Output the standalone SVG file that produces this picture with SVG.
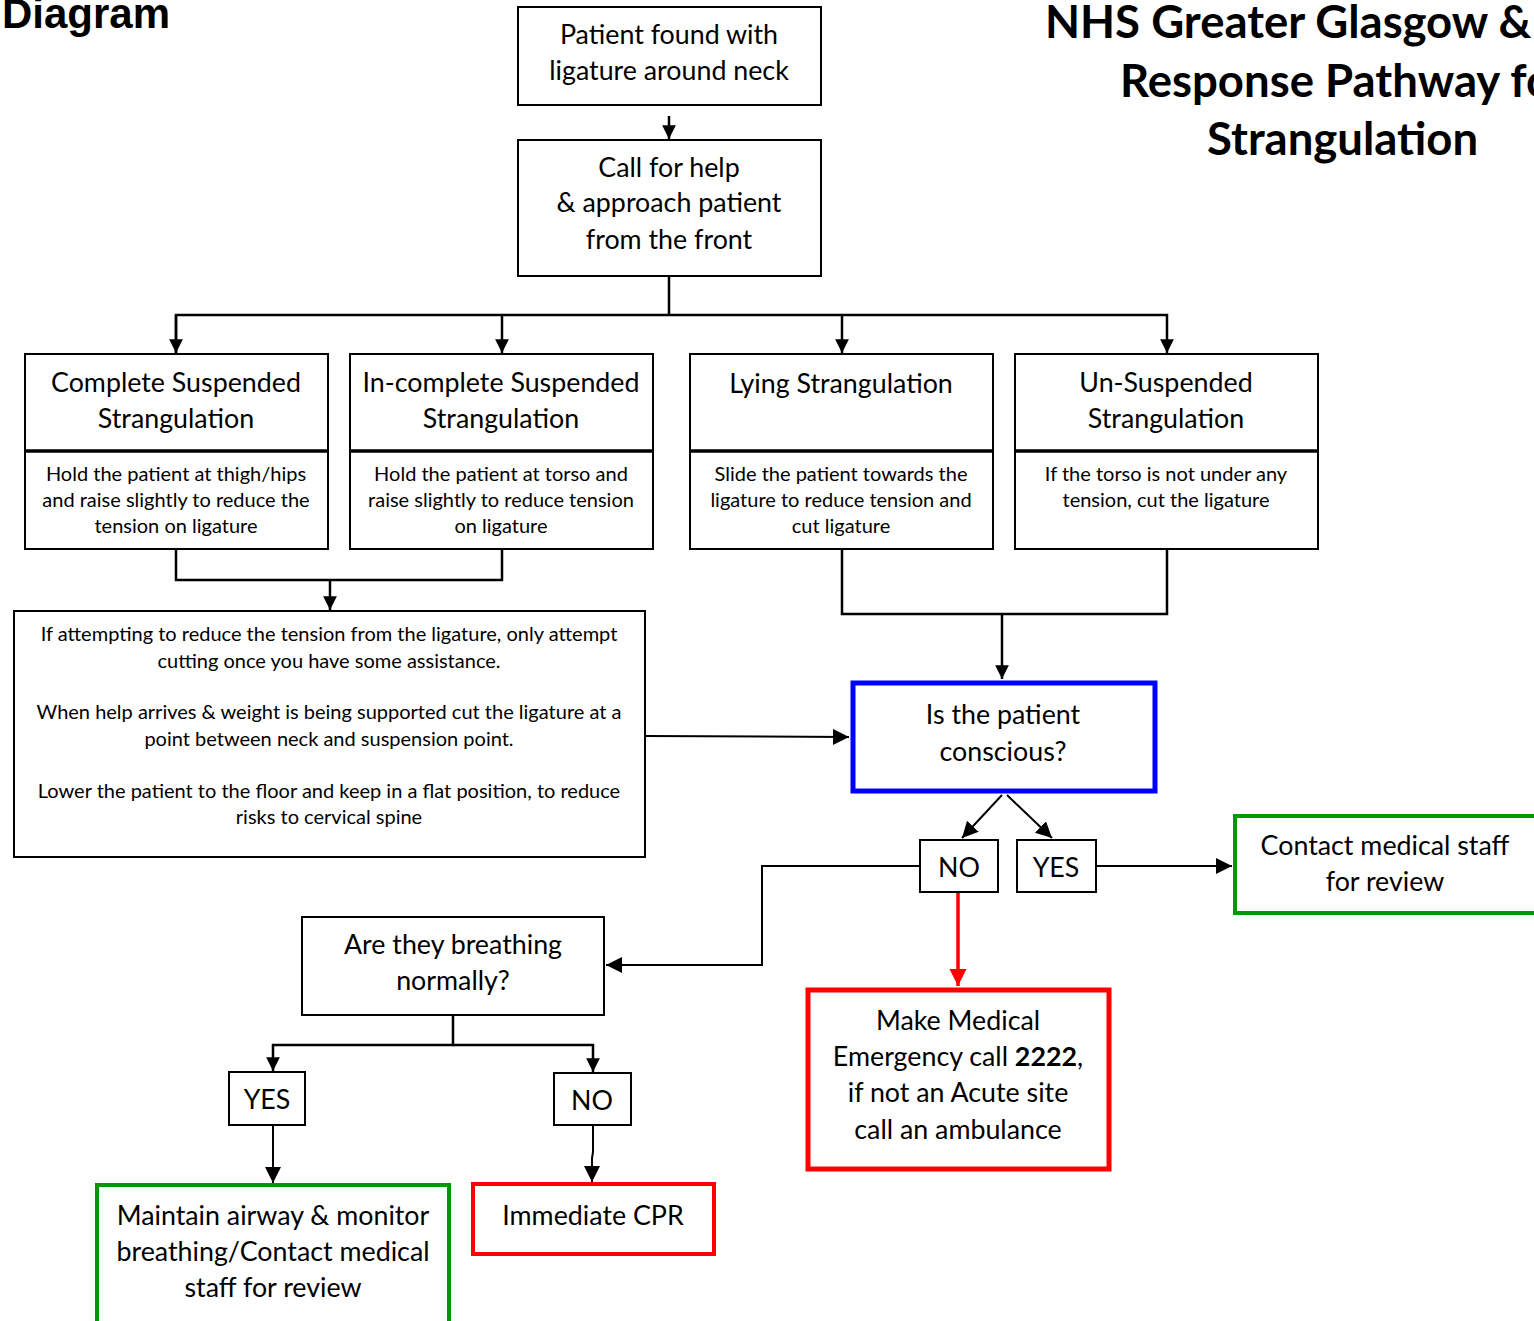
<svg xmlns="http://www.w3.org/2000/svg" width="1534" height="1321" viewBox="0 0 1534 1321">
<defs>
<style>
text{font-family:Lato,"Open Sans","Liberation Sans",sans-serif;fill:#000;text-anchor:middle}
.t{font-size:26.8px}
.s{font-size:20px}
.box{fill:#fff;stroke:#000;stroke-width:2}
.div{stroke:#000;stroke-width:3.5}
.c{fill:none;stroke:#000;stroke-width:2.5}
.thin{fill:none;stroke:#000;stroke-width:2}
.h1{font-family:"Liberation Sans",Arial,sans-serif;font-weight:bold;font-size:42px;text-anchor:start}
.h2{font-weight:bold;font-size:45.5px;text-anchor:start}
</style>
<marker id="ah" viewBox="0 0 10 10" refX="10" refY="5" markerWidth="5.5" markerHeight="5.5" markerUnits="strokeWidth" orient="auto"><path d="M0,0 L10,5 L0,10 z" fill="#000"/></marker>
<marker id="ahs" viewBox="0 0 10 10" refX="10" refY="5" markerWidth="8" markerHeight="8" markerUnits="strokeWidth" orient="auto"><path d="M0,0 L10,5 L0,10 z" fill="#000"/></marker>
<marker id="ahr" viewBox="0 0 10 10" refX="10" refY="5" markerWidth="5" markerHeight="5" markerUnits="strokeWidth" orient="auto"><path d="M0,0 L10,5 L0,10 z" fill="#f00"/></marker>
</defs>
<rect width="1534" height="1321" fill="#fff"/>

<g id="titles">
<text class="h1" x="2" y="28">Diagram</text>
<text class="h2" x="1045" y="38">NHS Greater Glasgow &amp; Clyde</text>
<text class="h2" x="1120" y="97">Response Pathway for</text>
<text class="h2" x="1207" y="155">Strangulation</text>
</g>

<g id="connectors">
<line class="c" x1="669" y1="116" x2="669" y2="139" marker-end="url(#ah)"/>
<polyline class="c" points="669,276 669,315"/>
<polyline class="c" points="176,353 176,315 1167,315 1167,353" marker-end="url(#ah)"/>
<line class="c" x1="176" y1="315" x2="176" y2="353" marker-end="url(#ah)"/>
<line class="c" x1="502" y1="315" x2="502" y2="353" marker-end="url(#ah)"/>
<line class="c" x1="842" y1="315" x2="842" y2="353" marker-end="url(#ah)"/>
<polyline class="c" points="176,549 176,580 502,580 502,549"/>
<line class="c" x1="330" y1="580" x2="330" y2="610" marker-end="url(#ah)"/>
<polyline class="c" points="842,549 842,614 1167,614 1167,549"/>
<line class="c" x1="1002" y1="614" x2="1002" y2="679" marker-end="url(#ah)"/>
<line class="thin" x1="645" y1="736" x2="849" y2="737" marker-end="url(#ahs)"/>
<line class="thin" x1="1002" y1="795" x2="962" y2="838" marker-end="url(#ahs)"/>
<line class="thin" x1="1007" y1="795" x2="1052" y2="838" marker-end="url(#ahs)"/>
<line class="thin" x1="1096" y1="866" x2="1232" y2="866" marker-end="url(#ahs)"/>
<polyline class="thin" points="920,866 762,866 762,965 606,965" marker-end="url(#ahs)"/>
<line x1="958" y1="892" x2="958" y2="986" stroke="#f00" stroke-width="3.5" marker-end="url(#ahr)"/>
<polyline class="c" points="453,1015 453,1045 273,1045 273,1071" marker-end="url(#ah)"/>
<polyline class="c" points="453,1045 593,1045 593,1072" marker-end="url(#ah)"/>
<line class="thin" x1="273" y1="1125" x2="273" y2="1183" marker-end="url(#ahs)"/>
<polyline class="thin" points="593,1125 593,1152 592,1158 592,1182" marker-end="url(#ahs)"/>
</g>

<g id="n-found">
<rect class="box" x="518" y="7" width="303" height="98"/>
<text class="t" x="669" y="44">Patient found with</text>
<text class="t" x="669" y="80">ligature around neck</text>
</g>
<g id="n-call">
<rect class="box" x="518" y="140" width="303" height="136"/>
<text class="t" x="669" y="177">Call for help</text>
<text class="t" x="669" y="212">&amp; approach patient</text>
<text class="t" x="669" y="249">from the front</text>
</g>

<g id="n-complete">
<rect class="box" x="25" y="354" width="303" height="195"/>
<line class="div" x1="25" y1="451" x2="328" y2="451"/>
<text class="t" x="176" y="392">Complete Suspended</text>
<text class="t" x="176" y="428">Strangulation</text>
<text class="s" x="176" y="481">Hold the patient at thigh/hips</text>
<text class="s" x="176" y="507">and raise slightly to reduce the</text>
<text class="s" x="176" y="533">tension on ligature</text>
</g>
<g id="n-incomplete">
<rect class="box" x="350" y="354" width="303" height="195"/>
<line class="div" x1="350" y1="451" x2="653" y2="451"/>
<text class="t" x="501" y="392">In-complete Suspended</text>
<text class="t" x="501" y="428">Strangulation</text>
<text class="s" x="501" y="481">Hold the patient at torso and</text>
<text class="s" x="501" y="507">raise slightly to reduce tension</text>
<text class="s" x="501" y="533">on ligature</text>
</g>
<g id="n-lying">
<rect class="box" x="690" y="354" width="303" height="195"/>
<line class="div" x1="690" y1="451" x2="993" y2="451"/>
<text class="t" x="841" y="393">Lying Strangulation</text>
<text class="s" x="841" y="481">Slide the patient towards the</text>
<text class="s" x="841" y="507">ligature to reduce tension and</text>
<text class="s" x="841" y="533">cut ligature</text>
</g>
<g id="n-unsuspended">
<rect class="box" x="1015" y="354" width="303" height="195"/>
<line class="div" x1="1015" y1="451" x2="1318" y2="451"/>
<text class="t" x="1166" y="392">Un-Suspended</text>
<text class="t" x="1166" y="428">Strangulation</text>
<text class="s" x="1166" y="481">If the torso is not under any</text>
<text class="s" x="1166" y="507">tension, cut the ligature</text>
</g>

<g id="n-instructions">
<rect class="box" x="14" y="611" width="631" height="246"/>
<text class="s" x="329" y="641">If attempting to reduce the tension from the ligature, only attempt</text>
<text class="s" x="329" y="668">cutting once you have some assistance.</text>
<text class="s" x="329" y="719">When help arrives &amp; weight is being supported cut the ligature at a</text>
<text class="s" x="329" y="746">point between neck and suspension point.</text>
<text class="s" x="329" y="798">Lower the patient to the floor and keep in a flat position, to reduce</text>
<text class="s" x="329" y="824">risks to cervical spine</text>
</g>

<g id="n-conscious">
<rect x="853" y="683" width="302" height="108" fill="#fff" stroke="#0000ff" stroke-width="5"/>
<text class="t" x="1003" y="724">Is the patient</text>
<text class="t" x="1003" y="761">conscious?</text>
</g>
<g id="n-no1">
<rect class="box" x="920" y="840" width="78" height="52"/>
<text class="t" x="959" y="877">NO</text>
</g>
<g id="n-yes1">
<rect class="box" x="1017" y="840" width="79" height="52"/>
<text class="t" x="1056" y="877">YES</text>
</g>
<g id="n-contact">
<rect x="1235" y="816" width="305" height="97" fill="#fff" stroke="#009900" stroke-width="4"/>
<text class="t" x="1385" y="855">Contact medical staff</text>
<text class="t" x="1385" y="891">for review</text>
</g>
<g id="n-emergency">
<rect x="808" y="990" width="301" height="179" fill="#fff" stroke="#f00" stroke-width="5"/>
<text class="t" x="958" y="1030">Make Medical</text>
<text class="t" x="958" y="1066">Emergency call <tspan font-weight="bold">2222</tspan>,</text>
<text class="t" x="958" y="1102">if not an Acute site</text>
<text class="t" x="958" y="1139">call an ambulance</text>
</g>
<g id="n-breathing">
<rect class="box" x="302" y="917" width="302" height="98"/>
<text class="t" x="453" y="954">Are they breathing</text>
<text class="t" x="453" y="990">normally?</text>
</g>
<g id="n-yes2">
<rect class="box" x="229" y="1072" width="76" height="53"/>
<text class="t" x="267" y="1109">YES</text>
</g>
<g id="n-no2">
<rect class="box" x="554" y="1073" width="77" height="52"/>
<text class="t" x="592" y="1110">NO</text>
</g>
<g id="n-maintain">
<rect x="97" y="1185" width="352" height="140" fill="#fff" stroke="#009900" stroke-width="4"/>
<text class="t" x="273" y="1225">Maintain airway &amp; monitor</text>
<text class="t" x="273" y="1261">breathing/Contact medical</text>
<text class="t" x="273" y="1297">staff for review</text>
</g>
<g id="n-cpr">
<rect x="473" y="1184" width="241" height="70" fill="#fff" stroke="#f00" stroke-width="4"/>
<text class="t" x="593" y="1225">Immediate CPR</text>
</g>
</svg>
